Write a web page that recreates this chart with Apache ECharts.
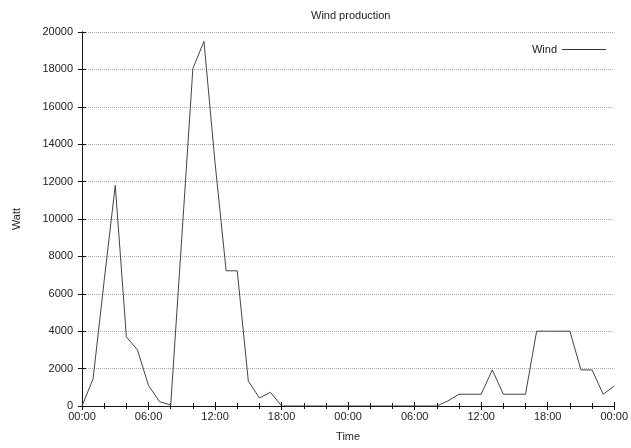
<!DOCTYPE html>
<html><head><meta charset="utf-8">
<script src="https://cdn.jsdelivr.net/npm/echarts@6/dist/echarts.min.js"></script>
<style>html,body{margin:0;padding:0;background:#fff}#c{width:631px;height:448px}</style>
</head><body><div id="c"></div>
<script>
const hours = [0,1,2,3,4,5,6,7,8,9,10,11,12,13,14,15,16,17,18,19,20,21,22,23,24,25,26,27,28,29,30,31,32,33,34,35,36,37,38,39,40,41,42,43,44,45,46,47,48];
const wind  = [0,1450,6700,11800,3700,3000,1100,230,50,9000,18050,19500,13000,7230,7230,1340,430,730,0,0,0,0,0,0,0,0,0,0,0,0,0,0,0,270,630,630,630,1930,630,630,630,4000,4000,4000,4000,1930,1930,630,1070];
const xTicks = ['00:00','06:00','12:00','18:00','00:00','06:00','12:00','18:00','00:00'];
const seriesName = 'Wind';

const font = 'Liberation Sans, Arial, sans-serif';
const chart = echarts.init(document.getElementById('c'));
const axisLine = {show:true, lineStyle:{color:'#111', width:1}};
const tick = {show:true, inside:true, length:4, lineStyle:{color:'#111'}};
const minor = {show:true, splitNumber:3, length:3, lineStyle:{color:'#111'}};
chart.setOption({
  animation:false,
  backgroundColor:'#fff',
  title:{text:'Wind production', left:306, top:5, textStyle:{fontSize:11, fontWeight:'normal', color:'#222', fontFamily:font}},
  legend:{data:[{name:seriesName, icon:'rect'}], right:20, top:39, align:'right', itemWidth:44, itemHeight:1, itemGap:8,
    textStyle:{fontSize:11, color:'#222', fontFamily:font}, itemStyle:{color:'#333'}},
  grid:{left:82, right:16, top:32, bottom:42},
  xAxis:[{
    type:'value', min:0, max:48, interval:6, name:'Time', nameLocation:'middle', nameGap:25,
    nameTextStyle:{fontSize:11, color:'#222', fontFamily:font},
    axisLine:axisLine, axisTick:tick, minorTick:minor,
    axisLabel:{formatter:v=>xTicks[v/6], fontSize:11, color:'#222', fontFamily:font, margin:5},
    splitLine:{show:false}
  },{
    type:'value', position:'top', min:0, max:48, interval:6,
    axisLine:axisLine, axisTick:tick, minorTick:minor,
    axisLabel:{show:false}, splitLine:{show:false}
  }],
  yAxis:[{
    type:'value', min:0, max:20000, interval:2000, name:'Watt', nameLocation:'middle', nameGap:60,
    nameTextStyle:{fontSize:11, color:'#222', fontFamily:font},
    axisLine:axisLine, axisTick:tick,
    axisLabel:{formatter:v=>String(v), fontSize:11, color:'#222', fontFamily:font, margin:9},
    splitLine:{show:true, lineStyle:{color:'#aaa', type:'dotted', width:1}}
  },{
    type:'value', position:'right', min:0, max:20000, interval:2000,
    axisLine:axisLine, axisTick:tick,
    axisLabel:{show:false}, splitLine:{show:false}
  }],
  series:[{
    name:seriesName, type:'line', xAxisIndex:0, yAxisIndex:0,
    data:hours.map((h,i)=>[h,wind[i]]),
    showSymbol:false, symbol:'none',
    lineStyle:{color:'#444', width:1}, itemStyle:{color:'#444'}
  }]
});
</script></body></html>
